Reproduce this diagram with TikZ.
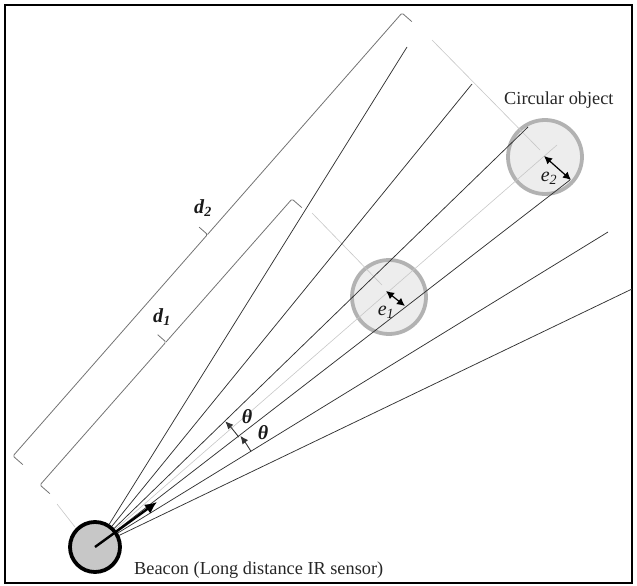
\documentclass[tikz,border=0pt]{standalone}
\usepackage{fontspec}
\setmainfont{Liberation Serif}
\usetikzlibrary{arrows.meta,calc}
\begin{document}
\begin{tikzpicture}[x=1pt,y=1pt,yscale=-1,
  fan/.style={draw=black!80, line width=0.75pt},
  ext/.style={draw=black!22, line width=0.6pt},
  brk/.style={draw=black!55, line width=0.8pt, rounded corners=1.5pt},
  obj/.style={circle, draw=black!30, fill=black!7, line width=3.8pt, minimum size=74pt, inner sep=0pt},
  beacon/.style={circle, draw=black, fill=black!22, line width=3.8pt, minimum size=50pt, inner sep=0pt},
  lbl/.style={font=\fontsize{20}{22}\selectfont, text=black!90, inner sep=0pt},
  txt/.style={font=\fontsize{18.3}{21}\selectfont, text=black!85, inner sep=0pt, anchor=west},
  dimarrow/.style={line width=1.2pt, {Latex[length=8pt,width=8pt]}-{Latex[length=8pt,width=8pt]}},
  angarrow/.style={draw=black!80, line width=0.9pt, -{Latex[length=8pt,width=7pt]}}]
\useasboundingbox (0,0) rectangle (637,586);
\draw[line width=2pt] (5,5) rectangle (632,583);

% circular objects
\node[obj] (c1) at (389,297) {};
\node[obj] (c2) at (545,157) {};

% beacon
\node[beacon] (b) at (95,547) {};

% extension lines and centre line
\coordinate (ce) at (557,145);
\draw[ext] (b) -- (ce);
\coordinate (x2a) at (432,40);  \coordinate (x2b) at (540,150);
\coordinate (x1a) at (312,213); \coordinate (x1b) at (382,285);
\coordinate (x0a) at (57,504);  \coordinate (x0b) at (75,527);
\draw[ext] (x2a) -- (x2b);
\draw[ext] (x1a) -- (x1b);
\draw[ext] (x0a) -- (x0b);

% fan lines
\coordinate (L1) at (407,47);
\coordinate (L2) at (472,84);
\coordinate (L3) at (528,127);
\coordinate (L4) at (570,180);
\coordinate (L5) at (608,232);
\coordinate (L6) at (632,289);
\foreach \i in {1,...,6} { \draw[fan] (b) -- (L\i); }

% beacon direction arrow
\coordinate (ba) at (157,502);
\draw[line width=2.4pt, -{Latex[length=12pt,width=11pt]}] (b.center) -- (ba);

% theta arcs
\coordinate (O) at (95,547);
\draw[angarrow] ($(O)+(-31.5:183)$) arc[start angle=-31.5, end angle=-37.4, radius=183];
\draw[angarrow] ($(O)+(-37.4:181)$) arc[start angle=-37.4, end angle=-44.0, radius=181];
\node[lbl] (t1) at (247,417) {\textbf{\textit{θ}}};
\node[lbl] (t2) at (263,433) {\textbf{\textit{θ}}};

% d2 bracket
\coordinate (A2) at (13,456);   \coordinate (H2a) at (22.8,464.6);
\coordinate (B2) at (402,13);   \coordinate (H2b) at (411.8,21.6);
\coordinate (M2) at (207.5,234.5); \coordinate (T2) at (199.2,227.2);
\draw[brk] (H2a) -- (A2) -- (M2) -- (T2);
\draw[brk] (M2) -- (B2) -- (H2b);
\node[lbl] (d2) at (203,208) {\textbf{\textit{d}}\textsubscript{\textbf{\textit{2}}}};

% d1 bracket
\coordinate (A1) at (40,485);   \coordinate (H1a) at (49.8,493.6);
\coordinate (B1) at (292,199);  \coordinate (H1b) at (301.8,207.6);
\coordinate (M1) at (166,342);  \coordinate (T1) at (157.7,334.7);
\draw[brk] (H1a) -- (A1) -- (M1) -- (T1);
\draw[brk] (M1) -- (B1) -- (H1b);
\node[lbl] (d1) at (162,317) {\textbf{\textit{d}}\textsubscript{\textbf{\textit{1}}}};

% e arrows
\coordinate (e1a) at (386,291); \coordinate (e1b) at (405,306);
\draw[dimarrow] (e1a) -- (e1b);
\node[lbl] (e1) at (386,312) {\textit{e\textsubscript{1}}};
\coordinate (e2a) at (544,156); \coordinate (e2b) at (571,180);
\draw[dimarrow] (e2a) -- (e2b);
\node[lbl] (e2) at (549,178) {\textit{e\textsubscript{2}}};

% texts
\node[txt] (co) at (504,100) {Circular object};
\node[txt] (bt) at (134,570) {Beacon (Long distance IR sensor)};
\end{tikzpicture}
\end{document}
